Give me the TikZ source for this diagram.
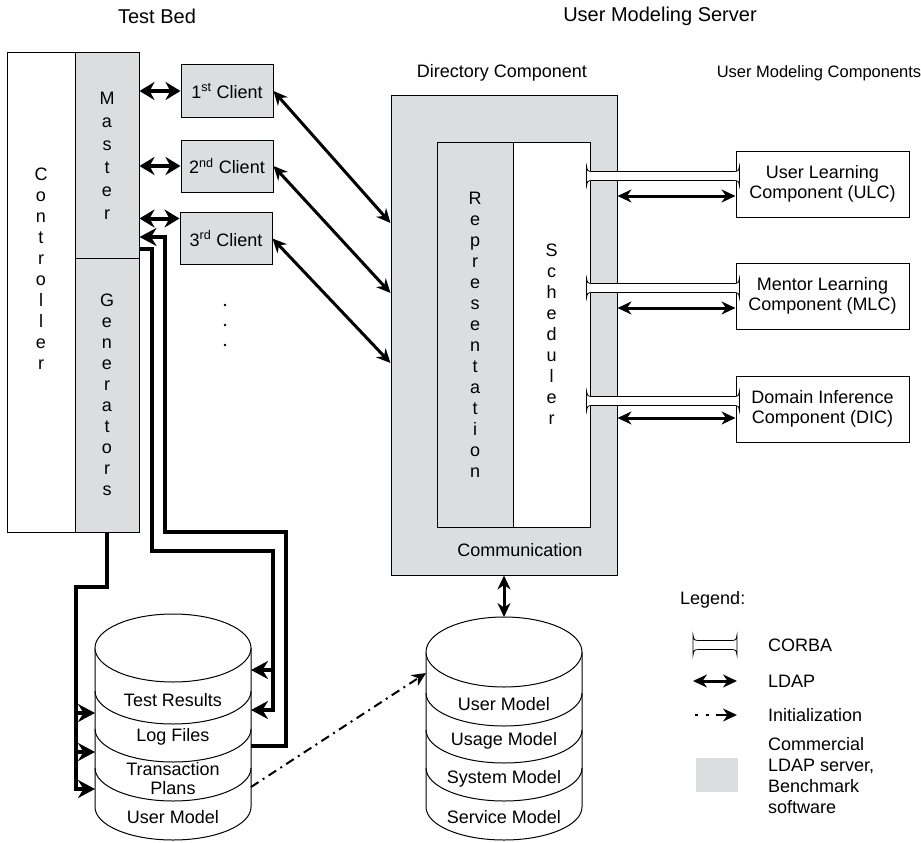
\documentclass[tikz,border=0pt]{standalone}
\usepackage{fontspec}
\setmainfont{Liberation Sans}
\usepackage{tikz}
\usetikzlibrary{arrows.meta,calc}
\definecolor{lgray}{RGB}{220,221,223}

\begin{document}
\begin{tikzpicture}[x=1pt,y=-1pt,
	font=\fontsize{18}{21}\selectfont,
	box/.style={draw=black,line width=1pt,inner sep=0pt},
	graybox/.style={box,fill=lgray},
	feed/.style={line width=4pt,arrows={-Stealth[length=17pt,width=18pt]}},
	bigldap/.style={line width=4pt,arrows={Stealth[length=15pt,width=18pt]-Stealth[length=15pt,width=18pt]}},
	ldap/.style={line width=3pt,arrows={Stealth[length=14pt,width=13pt]-Stealth[length=14pt,width=13pt]}},
	init/.style={line width=2pt,dash pattern=on 9pt off 5pt on 2pt off 5pt,arrows={-Stealth[length=14pt,width=13pt]}},
	corba/.style={draw=black,line width=0.8pt,fill=white,
		to path={let \p1=(\tikztostart),\p2=(\tikztotarget) in
			(\x1,\y1+10pt) .. controls (\x1+1pt,\y1+5pt) .. (\x1+5pt,\y1+4.5pt) -- (\x2-5pt,\y2+4.5pt)
			.. controls (\x2-1pt,\y2+5pt) .. (\x2,\y2+10pt) -- (\x2,\y2-10pt)
			.. controls (\x2-1pt,\y2-5pt) .. (\x2-5pt,\y2-4.5pt) -- (\x1+5pt,\y1-4.5pt)
			.. controls (\x1+1pt,\y1-5pt) .. (\x1,\y1-10pt) -- cycle}},
	dbline/.style={draw=black,line width=1pt}]

	\useasboundingbox (0,0) rectangle (921,843);

	% titles
	\node (tbed) at (157,16) {\fontsize{20}{24}\selectfont Test Bed};
	\node (ums) at (660,16) {\fontsize{20}{24}\selectfont User Modeling Server};
	\node (dirlbl) at (502,73) {Directory Component};
	\node (umclbl) at (819,73) {\fontsize{16.5}{20}\selectfont User Modeling Components};

	% test bed
	\node[box,minimum width=68pt,minimum height=479pt] (ctrl) at (41,292.5) {};
	\node[align=center] (ctrltxt) at (41,269) {C\\o\\n\\t\\r\\o\\l\\l\\e\\r};
	\node[graybox,minimum width=64pt,minimum height=205pt,align=center,font=\fontsize{18}{23}\selectfont] (mst) at (107,155.5) {M\\a\\s\\t\\e\\r};
	\node[graybox,minimum width=64pt,minimum height=274pt,align=center] (gen) at (107,395) {G\\e\\n\\e\\r\\a\\t\\o\\r\\s};

	\node[graybox,minimum width=92pt,minimum height=52pt] (c1) at (227,91) {1\textsuperscript{st} Client};
	\node[graybox,minimum width=92pt,minimum height=52pt] (c2) at (227,166) {2\textsuperscript{nd} Client};
	\node[graybox,minimum width=92pt,minimum height=52pt] (c3) at (226,238.5) {3\textsuperscript{rd} Client};
	\foreach \y in {305,325,345}
		\fill (225,\y) circle (1.3pt);

	% directory component
	\node[graybox,minimum width=226pt,minimum height=480pt] (dir) at (504,335) {};
	\node[graybox,minimum width=76pt,minimum height=385pt,align=center] (repr) at (475,334.5) {R\\e\\p\\r\\e\\s\\e\\n\\t\\a\\t\\i\\o\\n};
	\node[box,fill=white,minimum width=77pt,minimum height=385pt,align=center] (sched) at (551.5,334.5) {S\\c\\h\\e\\d\\u\\l\\e\\r};
	\node (comm) at (520,550) {Communication};

	% user modeling components
	\node[box,minimum width=173pt,minimum height=66pt,align=center,font=\fontsize{18}{20}\selectfont] (ulc) at (822.5,184) {User Learning\\Component (ULC)};
	\node[box,minimum width=173pt,minimum height=66pt,align=center,font=\fontsize{18}{20}\selectfont] (mlc) at (822.5,296) {Mentor Learning\\Component (MLC)};
	\node[box,minimum width=173pt,minimum height=66pt,align=center,font=\fontsize{18}{20}\selectfont] (dic) at (822.5,409) {Domain Inference\\Component (DIC)};

	% test bed database
	\draw[dbline,fill=white] (95,648) -- (95,807) arc[start angle=180,end angle=360,x radius=78pt,y radius=33pt] -- (251,648);
	\draw[dbline,fill=white] (173,648) ellipse[x radius=78pt,y radius=34pt];
	\foreach \y in {691,729,768}
		\draw[dbline] (95,\y) arc[start angle=180,end angle=360,x radius=78pt,y radius=33pt];
	\node (tres) at (173,700) {Test Results};
	\node (logf) at (173,737) {Log Files};
	\node[align=center,font=\fontsize{18}{19}\selectfont] (tplan) at (173,779) {Transaction\\Plans};
	\node (tum) at (173,817) {User Model};

	% server database
	\draw[dbline,fill=white] (426,652) -- (426,807) arc[start angle=180,end angle=360,x radius=78pt,y radius=33pt] -- (582,652);
	\draw[dbline,fill=white] (504,652) ellipse[x radius=78pt,y radius=35pt];
	\foreach \y in {693,730,768}
		\draw[dbline] (426,\y) arc[start angle=180,end angle=360,x radius=78pt,y radius=33pt];
	\node (sum) at (504,704) {User Model};
	\node (usage) at (504,741) {Usage Model};
	\node (sys) at (504,779) {System Model};
	\node (serv) at (504,817) {Service Model};

	\coordinate (tdbl1) at (95,713);
	\coordinate (tdbl2) at (95,752);
	\coordinate (tdbl3) at (95,789);
	\coordinate (tdbr0) at (251,670);
	\coordinate (tdbr1) at (251,710);
	\coordinate (tdbr2) at (251,746);
	\coordinate (tdbr3) at (251,787);
	\coordinate (sdbtop) at (504,617);
	\coordinate (sdbl0) at (426,673);

	\coordinate (gbus) at (76,587);
	\coordinate (mbus) at (152,551);
	\coordinate (rbus) at (273,710);
	\coordinate (lbus) at (286,532);
	\coordinate (lbus2) at (165,237);
	\coordinate (c3in) at ($(c3.west)+(0,-20)$);

	% test bed connections
	\path[bigldap] (mst.east |- c1.west) edge (c1.west);
	\path[bigldap] (mst.east |- c2.west) edge (c2.west);
	\path[bigldap] (mst.east |- c3in) edge (c3in);

	\draw[feed] (gen.south) |- (gbus) |- (tdbl3);
	\draw[feed] (gbus |- tdbl1) -- (tdbl1);
	\draw[feed] (gbus |- tdbl2) -- (tdbl2);

	\draw[feed] ($(mst.east)+(0,93.5)$) -| (mbus) -| (rbus) -- (tdbr1);
	\draw[feed] (rbus |- tdbr0) -- (tdbr0);

	\draw[feed] (tdbr2) -| (lbus) -| (lbus2) -- (mst.east |- lbus2);

	\path[ldap] (c1.east) edge ($(dir.west)+(0,-112)$);
	\path[ldap] (c2.east) edge ($(dir.west)+(0,-42)$);
	\path[ldap] (c3.east) edge ($(dir.west)+(0,28)$);

	% server connections
	\coordinate (u1) at ($(sched.east |- ulc.west)+(-4,-8)$);
	\coordinate (u2) at ($(ulc.west)+(4,-8)$);
	\coordinate (m1) at ($(sched.east |- mlc.west)+(-4,-8)$);
	\coordinate (m2) at ($(mlc.west)+(4,-8)$);
	\coordinate (d1) at ($(sched.east |- dic.west)+(-4,-8)$);
	\coordinate (d2) at ($(dic.west)+(4,-8)$);
	\draw[corba] (u1) to (u2);
	\draw[corba] (m1) to (m2);
	\draw[corba] (d1) to (d2);

	\path[ldap] ($(dir.east |- ulc.west)+(0,12)$) edge ($(ulc.west)+(0,12)$);
	\path[ldap] ($(dir.east |- mlc.west)+(0,12)$) edge ($(mlc.west)+(0,12)$);
	\path[ldap] ($(dir.east |- dic.west)+(0,9)$) edge ($(dic.west)+(0,9)$);

	\path[ldap] (dir.south) edge (sdbtop);
	\draw[init] (tdbr3) -- (sdbl0);

	% legend
	\node[anchor=west,inner sep=0pt] (leg) at (680,600) {Legend:};
	\node[anchor=west,inner sep=0pt] (kcorba) at (768,645) {CORBA};
	\node[anchor=west,inner sep=0pt] (kldap) at (768,681) {LDAP};
	\node[anchor=west,inner sep=0pt] (kinit) at (768,715) {Initialization};
	\node[anchor=west,inner sep=0pt,align=left] (kcom) at (768,776) {Commercial\\LDAP server,\\Benchmark\\software};
	\node[fill=lgray,minimum width=42pt,minimum height=34pt] (kbox) at (717,775) {};

	\coordinate (kc1) at (693,645);
	\coordinate (kc2) at (737,645);
	\coordinate (kl1) at (693,681);
	\coordinate (kl2) at (737,681);
	\coordinate (ki1) at (695,715);
	\coordinate (ki2) at (737,715);
	\draw[corba] (kc1) to (kc2);
	\path[ldap] (kl1) edge (kl2);
	\draw[line width=2pt,dash pattern=on 2.5pt off 8.5pt on 2.5pt off 7pt on 30pt off 0pt,arrows={-Stealth[length=14pt,width=13pt]}] (ki1) -- (ki2);
\end{tikzpicture}
\end{document}
